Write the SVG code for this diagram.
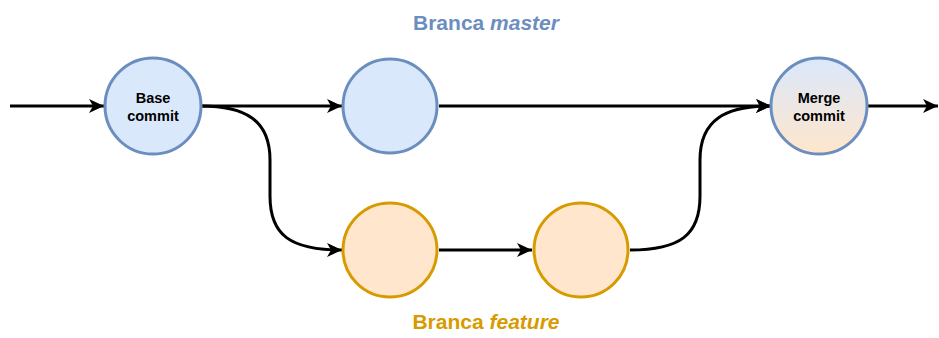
<svg xmlns="http://www.w3.org/2000/svg" width="939" height="338" viewBox="0 0 939 338">
<defs>
<linearGradient id="mg" x1="0" y1="0" x2="0" y2="1">
<stop offset="0" stop-color="#dae8fc"/>
<stop offset="1" stop-color="#ffe6cc"/>
</linearGradient>
<marker id="arr" markerUnits="userSpaceOnUse" markerWidth="17" markerHeight="14" refX="15" refY="7" orient="auto" viewBox="0 0 17 14">
<path d="M0,0 L15,7 L0,14 L4,7 Z" fill="#000"/>
</marker>
</defs>
<style>
.blue{fill:#dae8fc;stroke:#6c8ebf;stroke-width:3}
.orange{fill:#ffe6cc;stroke:#d79b00;stroke-width:3}
.merge{fill:url(#mg);stroke:#6c8ebf;stroke-width:3}
.edge{fill:none;stroke:#000;stroke-width:3;marker-end:url(#arr)}
.lbl{font-family:"Liberation Sans",Arial,sans-serif;font-weight:bold;font-size:14.5px;fill:#000;text-anchor:middle}
.title{font-family:"Liberation Sans",Arial,sans-serif;font-weight:bold;font-size:21px;text-anchor:middle}
</style>
<g id="connectors">
<path class="edge" d="M10,106 L104,106"/>
<path class="edge" d="M201,106 L342,106"/>
<path class="edge" d="M201,106 C245,106 270,120 270,160 L270,196 C270,235 290,250 342,250"/>
<path class="edge" d="M439,106 L771,106"/>
<path class="edge" d="M439,250 L532,250"/>
<path class="edge" d="M630,250 C680,250 700,235 700,196 L700,160 C700,120 725,106 771,106"/>
<path class="edge" d="M868,106 L938,106"/>
</g>
<g id="base">
<circle class="blue" cx="153" cy="106" r="48"/>
<text class="lbl" x="153" y="103">Base</text>
<text class="lbl" x="153" y="121">commit</text>
</g>
<g id="master2">
<circle class="blue" cx="390" cy="106" r="47"/>
</g>
<g id="feature1">
<circle class="orange" cx="390" cy="250" r="47"/>
</g>
<g id="feature2">
<circle class="orange" cx="581" cy="250" r="47"/>
</g>
<g id="merge">
<circle class="merge" cx="819" cy="106" r="48"/>
<text class="lbl" x="819" y="103">Merge</text>
<text class="lbl" x="819" y="121">commit</text>
</g>
<g id="title-master">
<text class="title" x="486" y="30" fill="#6c8ebf">Branca <tspan font-style="italic">master</tspan></text>
</g>
<g id="title-feature">
<text class="title" x="486" y="329" fill="#d79b00">Branca <tspan font-style="italic">feature</tspan></text>
</g>
</svg>
